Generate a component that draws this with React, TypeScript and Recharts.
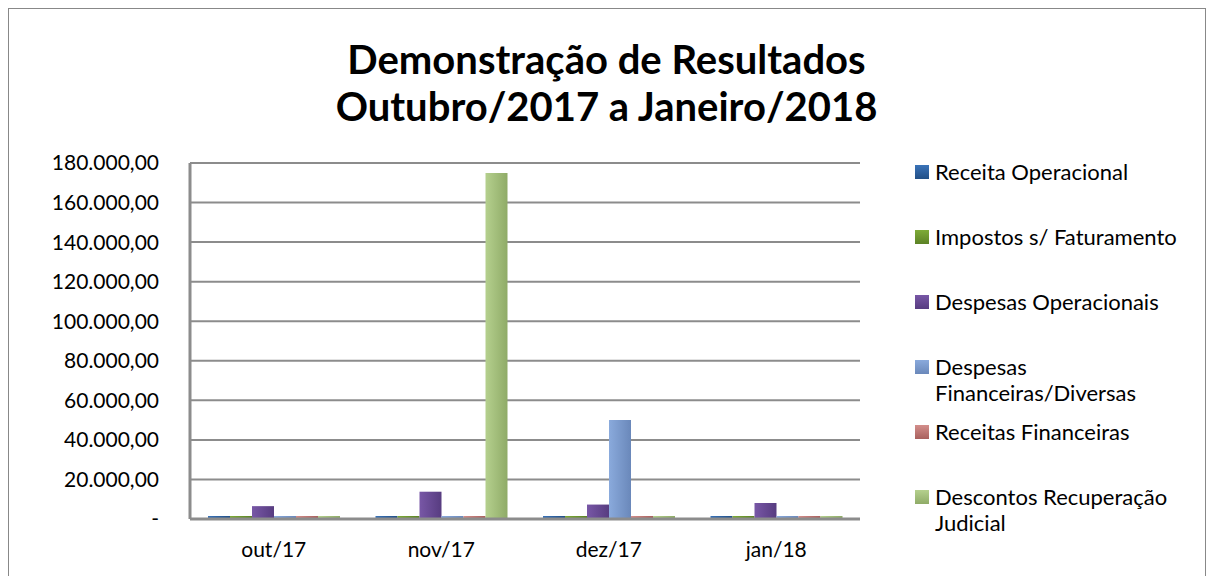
import { BarChart, Bar, XAxis, YAxis, CartesianGrid } from 'recharts'

const CATEGORIES = ['out/17', 'nov/17', 'dez/17', 'jan/18']

const RECEITA_OPERACIONAL = [0, 1200, 0, 0]
const IMPOSTOS_FATURAMENTO = [0, 0, 0, 0]
const DESPESAS_OPERACIONAIS = [6500, 13800, 7300, 8100]
const DESPESAS_FINANCEIRAS = [0, 0, 50000, 0]
const RECEITAS_FINANCEIRAS = [0, 0, 0, 0]
const DESCONTOS_RECUPERACAO = [0, 175000, 0, 0]

const Y_TICKS = [0, 20000, 40000, 60000, 80000, 100000, 120000, 140000, 160000, 180000]

const SERIES = [
    { key: 'receita', name: 'Receita Operacional', values: RECEITA_OPERACIONAL, light: '#3a73b8', dark: '#224f86' },
    { key: 'impostos', name: 'Impostos s/ Faturamento', values: IMPOSTOS_FATURAMENTO, light: '#7eab38', dark: '#5c8226' },
    { key: 'despOp', name: 'Despesas Operacionais', values: DESPESAS_OPERACIONAIS, light: '#7857a6', dark: '#573c80' },
    { key: 'despFin', name: 'Despesas Financeiras/Diversas', values: DESPESAS_FINANCEIRAS, light: '#8aaadc', dark: '#6a88ba' },
    { key: 'recFin', name: 'Receitas Financeiras', values: RECEITAS_FINANCEIRAS, light: '#d38e8b', dark: '#a8605d' },
    { key: 'descontos', name: 'Descontos Recuperação Judicial', values: DESCONTOS_RECUPERACAO, light: '#b5d08e', dark: '#8fab67' },
]

const data = CATEGORIES.map((cat, i) => {
    const row: Record<string, string | number> = { name: cat }
    SERIES.forEach((s) => {
        row[s.key] = s.values[i]
    })
    return row
})

// pt-BR style number, zero shown as "-"
const fmt = (v: number) => {
    if (v === 0) return '-'
    const int = Math.round(v).toString().replace(/\B(?=(\d{3})+(?!\d))/g, '.')
    return int + ',00'
}

const FONT = 'Lato, "Open Sans", sans-serif'

export default function App() {
    return (
        <div style={{ position: 'absolute', left: 0, top: 0, width: 1213, height: 576, background: '#fff', fontFamily: FONT, color: '#000' }}>
            <div style={{ position: 'absolute', left: 8, top: 8, width: 1196, height: 570, border: '1px solid #888' }} />
            <div style={{ position: 'absolute', left: 0, top: 36, width: 1213, textAlign: 'center', fontSize: 40, fontWeight: 700, lineHeight: '47px' }}>
                <div>Demonstração de Resultados</div>
                <div>Outubro/2017 a Janeiro/2018</div>
            </div>
            <div style={{ position: 'absolute', left: 0, top: 0 }}>
                <BarChart
                    width={1213}
                    height={576}
                    data={data}
                    margin={{ top: 163, right: 353, bottom: 27, left: 90 }}
                    barGap={0}
                    barSize={22}
                >
                    <defs>
                        {SERIES.map((s) => (
                            <linearGradient key={s.key} id={`g-${s.key}`} x1="0" y1="0" x2="1" y2="0">
                                <stop offset="0%" stopColor={s.light} />
                                <stop offset="100%" stopColor={s.dark} />
                            </linearGradient>
                        ))}
                    </defs>
                    <CartesianGrid vertical={false} stroke="#8c8c8c" strokeWidth={2} />
                    <XAxis
                        dataKey="name"
                        tickLine={false}
                        tickSize={0}
                        tickMargin={23}
                        axisLine={{ stroke: '#8c8c8c', strokeWidth: 3 }}
                        tick={{ fill: '#000', fontSize: 21, fontFamily: FONT }}
                        height={30}
                    />
                    <YAxis
                        domain={[0, 180000]}
                        ticks={Y_TICKS}
                        tickFormatter={fmt}
                        tickLine={false}
                        tickSize={0}
                        tickMargin={31}
                        width={100}
                        axisLine={{ stroke: '#8c8c8c', strokeWidth: 3 }}
                        tick={{ fill: '#000', fontSize: 21, fontFamily: FONT }}
                        interval={0}
                    />
                    {SERIES.map((s) => (
                        <Bar
                            key={s.key}
                            dataKey={s.key}
                            name={s.name}
                            fill={`url(#g-${s.key})`}
                            minPointSize={3}
                            isAnimationActive={false}
                        />
                    ))}
                </BarChart>
            </div>
            <div style={{ position: 'absolute', left: 915, top: 159, width: 290, fontSize: 22, lineHeight: '26px' }}>
                {SERIES.map((s) => (
                    <div key={s.key} style={{ height: 65, display: 'flex', alignItems: 'flex-start' }}>
                        <div style={{ width: 14, height: 14, marginTop: 6, marginRight: 6, flexShrink: 0, background: `linear-gradient(${s.light}, ${s.dark})` }} />
                        <div style={{ width: 262 }}>{s.name}</div>
                    </div>
                ))}
            </div>
        </div>
    )
}
